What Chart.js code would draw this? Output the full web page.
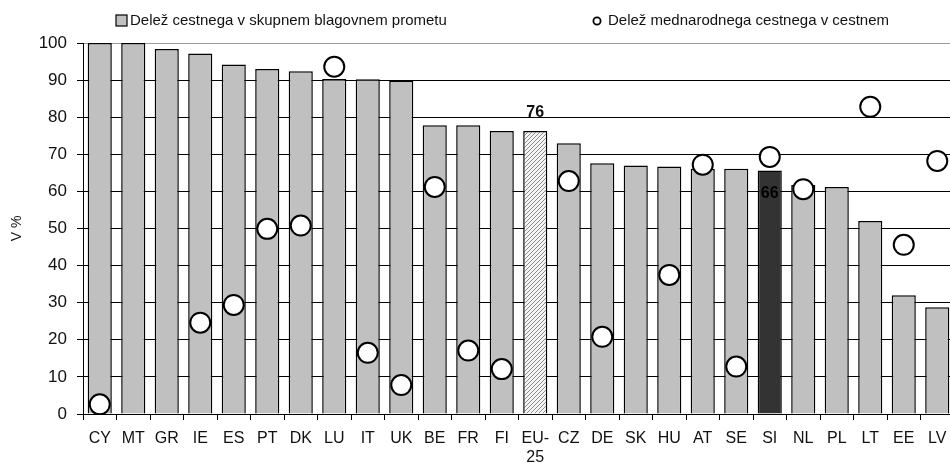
<!DOCTYPE html>
<html>
<head>
<meta charset="utf-8">
<script src="https://cdn.jsdelivr.net/npm/chart.js@4"></script>
<style>
  html, body { margin: 0; padding: 0; background: #fff; overflow: hidden; }
  #wrap { width: 955px; height: 463px; }
</style>
</head>
<body>
<div id="wrap"><canvas id="roadChart"></canvas></div>
<script>
// country codes, EU-25 wraps onto two lines
const countries = ['CY','MT','GR','IE','ES','PT','DK','LU','IT','UK','BE','FR','FI',['EU-','25'],'CZ','DE','SK','HU','AT','SE','SI','NL','PL','LT','EE','LV']
// share of road transport in total freight transport (%)
const roadShare = [100, 100, 98.4, 97.2, 94.2, 93.0, 92.4, 90.3, 90.2, 89.8, 77.8, 77.8, 76.3, 76.3, 73.0, 67.6, 67.0, 66.7, 66.1, 66.1, 65.6, 61.7, 61.2, 52.0, 32.0, 28.8]
// share of international road transport in road transport (%)
const intlShare = [2.6, null, null, 24.6, 29.4, 49.9, 50.8, 93.6, 16.5, 7.8, 61.2, 17.1, 12.1, null, 62.8, 20.8, null, 37.5, 67.2, 12.8, 69.3, 60.6, null, 82.8, 45.6, 68.2]
const legendLabels = ['Delež cestnega v skupnem blagovnem prometu', 'Delež mednarodnega cestnega v cestnem']
const yTicks = [0, 10, 20, 30, 40, 50, 60, 70, 80, 90, 100]

const euIndex = 13
const siIndex = 20
const FONT = '"Liberation Sans", Arial, sans-serif'
const barGray = '#c0c0c0'

function makeHatch() {
    const c = document.createElement('canvas')
    c.width = 4
    c.height = 4
    const g = c.getContext('2d')
    g.fillStyle = '#f4f4f4'
    g.fillRect(0, 0, 4, 4)
    g.strokeStyle = '#8c8c8c'
    g.lineWidth = 1
    g.beginPath()
    g.moveTo(-1, 5)
    g.lineTo(5, -1)
    g.stroke()
    return g.createPattern(c, 'repeat')
}

const hatch = makeHatch()
const barColors = countries.map((c, i) => {
    if (i === euIndex) return hatch
    if (i === siIndex) return '#333333'
    return barGray
})

// legend row drawn across the top
const topLegend = {
    id: 'topLegend',
    afterDraw(chart) {
        const ctx = chart.ctx
        ctx.save()
        ctx.font = '15px ' + FONT
        ctx.textBaseline = 'middle'
        ctx.fillStyle = barGray
        ctx.strokeStyle = '#000'
        ctx.lineWidth = 1.2
        ctx.fillRect(116, 15, 11, 11)
        ctx.strokeRect(116, 15, 11, 11)
        ctx.fillStyle = '#111'
        ctx.fillText(legendLabels[0], 130, 21)
        ctx.beginPath()
        ctx.arc(597, 21, 3.6, 0, Math.PI * 2)
        ctx.fillStyle = '#fff'
        ctx.fill()
        ctx.lineWidth = 1.8
        ctx.stroke()
        ctx.fillStyle = '#111'
        ctx.fillText(legendLabels[1], 608, 21)
        ctx.restore()
    }
}

// value labels for EU-25 (above) and SI (inside)
const valueLabels = {
    id: 'valueLabels',
    afterDatasetsDraw(chart) {
        const ctx = chart.ctx
        const bars = chart.getDatasetMeta(0).data
        ctx.save()
        ctx.font = 'bold 16px ' + FONT
        ctx.textAlign = 'center'
        ctx.textBaseline = 'middle'
        ctx.fillStyle = '#111'
        const eu = bars[euIndex]
        ctx.fillText(Math.round(roadShare[euIndex]), eu.x, eu.y - 18)
        const si = bars[siIndex]
        ctx.fillStyle = '#000'
        ctx.fillText(Math.round(roadShare[siIndex]), si.x, si.y + 23)
        ctx.restore()
    }
}

const ctx = document.getElementById('roadChart').getContext('2d')
const roadChart = new Chart(ctx, {
    data: {
        labels: countries,
        datasets: [
            {
                type: 'bar',
                label: legendLabels[0],
                data: roadShare,
                backgroundColor: barColors,
                borderColor: '#000',
                borderWidth: 1.5,
                barPercentage: 0.72,
                categoryPercentage: 1,
                order: 2
            },
            {
                type: 'line',
                label: legendLabels[1],
                data: intlShare,
                showLine: false,
                pointRadius: 10,
                pointBorderWidth: 2,
                pointBackgroundColor: '#fff',
                pointBorderColor: '#000',
                order: 1
            }
        ]
    },
    options: {
        responsive: true,
        maintainAspectRatio: false,
        animation: false,
        layout: { autoPadding: false, padding: { top: 43, right: 1, left: 0, bottom: 0 } },
        plugins: {
            legend: { display: false },
            tooltip: { enabled: false }
        },
        scales: {
            x: {
                grid: {
                    offset: true,
                    drawOnChartArea: false,
                    color: '#000',
                    tickLength: 6
                },
                border: { color: '#000', width: 1 },
                ticks: {
                    color: '#111',
                    font: { family: FONT, size: 16, lineHeight: 1.2 },
                    padding: 9,
                    maxRotation: 0,
                    autoSkip: false
                },
                afterFit(scale) {
                    scale.height = 49
                    scale.paddingLeft = 0
                    scale.paddingRight = 0
                }
            },
            y: {
                min: 0,
                max: 100,
                afterBuildTicks(scale) { scale.ticks = yTicks.map(v => ({ value: v })) },
                grid: {
                    color: c => c.tick && c.tick.value === 100 ? '#9a9a9a' : '#000',
                    tickColor: '#000',
                    tickLength: 6
                },
                border: { color: '#000', width: 1 },
                ticks: {
                    color: '#111',
                    font: { family: FONT, size: 17 },
                    padding: 10
                },
                title: {
                    display: true,
                    text: 'V %',
                    color: '#111',
                    font: { family: FONT, size: 14 },
                    padding: { top: 9, bottom: 0 }
                },
                afterFit(scale) { scale.width = 83 }
            }
        }
    },
    plugins: [topLegend, valueLabels]
})
</script>
</body>
</html>
